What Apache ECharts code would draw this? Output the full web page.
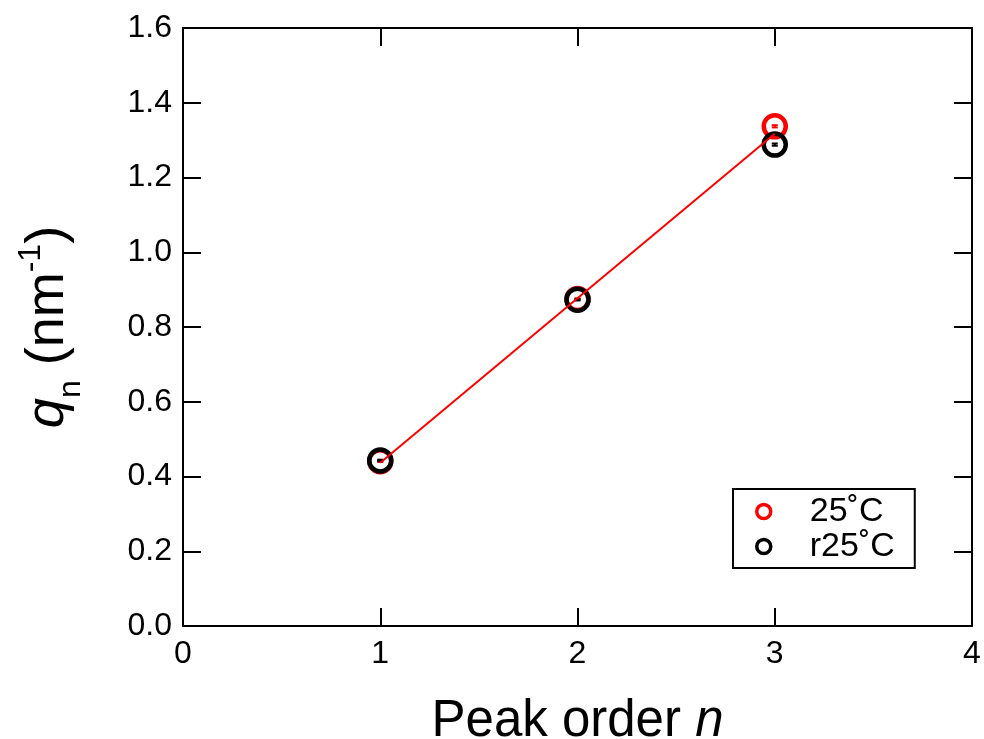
<!DOCTYPE html>
<html>
<head>
<meta charset="utf-8">
<script src="https://cdn.jsdelivr.net/npm/echarts@6/dist/echarts.min.js"></script>
<style>html,body{margin:0;padding:0;background:#fff}#c{width:984px;height:739px}</style>
</head>
<body>
<div id="c"></div>
<script>
// Data
const peakOrder = [1, 2, 3];
const q25 = [0.441, 0.875, 1.337];
const q25Err = [0.002, 0.002, 0.003];
const qR25 = [0.443, 0.873, 1.288];
const qR25Err = [0.002, 0.002, 0.003];
const fitX = [1, 3];
const fitY = [0.437, 1.317];
const xTicks = [0, 1, 2, 3, 4];
const yTicks = [0, 0.2, 0.4, 0.6, 0.8, 1.0, 1.2, 1.4, 1.6];

const FONT = 'Liberation Sans, Arial, Helvetica, sans-serif';
const chart = echarts.init(document.getElementById('c'), null, {renderer: 'canvas'});

function pairs(xs, ys) { return xs.map((x, i) => [x, ys[i]]); }
function errPairs(xs, ys, es) { return xs.map((x, i) => [x, ys[i], es[i]]); }

function errSeries(data, color) {
  return {
    type: 'custom', xAxisIndex: 0, yAxisIndex: 0, z: 4, silent: true,
    data: data,
    renderItem: function (params, api) {
      const x = api.value(0), y = api.value(1), e = api.value(2);
      const hi = api.coord([x, y + e]), lo = api.coord([x, y - e]);
      const w = 3;
      return {
        type: 'group',
        children: [
          {type: 'line', shape: {x1: hi[0], y1: hi[1], x2: lo[0], y2: lo[1]}, style: {stroke: color, lineWidth: 2}},
          {type: 'line', shape: {x1: hi[0] - w, y1: hi[1], x2: hi[0] + w, y2: hi[1]}, style: {stroke: color, lineWidth: 2}},
          {type: 'line', shape: {x1: lo[0] - w, y1: lo[1], x2: lo[0] + w, y2: lo[1]}, style: {stroke: color, lineWidth: 2}}
        ]
      };
    }
  };
}

function axisCommon() {
  return {
    axisLine: {show: true, onZero: false, lineStyle: {color: '#000', width: 2}},
    axisTick: {show: true, inside: true, length: 18, lineStyle: {color: '#000', width: 2}},
    splitLine: {show: false}
  };
}

const option = {
  animation: false,
  backgroundColor: '#fff',
  grid: {left: 183, right: 12, top: 28, bottom: 113, containLabel: false, outerBoundsMode: 'none'},
  xAxis: [
    Object.assign({
      type: 'value', min: 0, max: 4, interval: 1, position: 'bottom',
      axisLabel: {color: '#000', fontSize: 32, fontFamily: FONT, margin: 12,
        formatter: v => String(v)},
      name: '{a|Peak order }{i|n}', nameLocation: 'middle', nameGap: 70,
      nameTextStyle: {rich: {
        a: {fontSize: 51, fontFamily: FONT, color: '#000'},
        i: {fontSize: 51, fontFamily: FONT, color: '#000', fontStyle: 'italic'}
      }}
    }, axisCommon()),
    Object.assign({
      type: 'value', min: 0, max: 4, interval: 1, position: 'top',
      axisLabel: {show: false}
    }, axisCommon())
  ],
  yAxis: [
    Object.assign({
      type: 'value', min: 0, max: 1.6, interval: 0.2, position: 'left',
      axisLabel: {color: '#000', fontSize: 32, fontFamily: FONT, margin: 11,
        formatter: v => v.toFixed(1)},
      name: '{q|q}{sub|n}{a| (nm}{sup|-1}{a|)}', nameLocation: 'middle', nameRotate: 90, nameGap: 108,
      nameTextStyle: {rich: {
        q: {fontSize: 54, fontFamily: FONT, color: '#000', fontStyle: 'italic', lineHeight: 60, verticalAlign: 'bottom'},
        sub: {fontSize: 32, fontFamily: FONT, color: '#000', lineHeight: 60, verticalAlign: 'bottom', padding: [0, 0, -12, 0]},
        a: {fontSize: 54, fontFamily: FONT, color: '#000', lineHeight: 60, verticalAlign: 'bottom'},
        sup: {fontSize: 32, fontFamily: FONT, color: '#000', lineHeight: 60, verticalAlign: 'top', padding: [0, 0, 14, 0]}
      }}
    }, axisCommon()),
    Object.assign({
      type: 'value', min: 0, max: 1.6, interval: 0.2, position: 'right',
      axisLabel: {show: false}
    }, axisCommon())
  ],
  legend: {
    left: 733, top: 489, orient: 'vertical',
    data: [
      {name: '25˚C', itemStyle: {color: '#fff', borderColor: '#ff0000', borderWidth: 3.5}},
      {name: 'r25˚C', itemStyle: {color: '#fff', borderColor: '#000000', borderWidth: 3.5}}
    ],
    backgroundColor: '#fff',
    borderColor: '#000', borderWidth: 2, borderRadius: 0,
    padding: [5, 20, 4, 22],
    itemGap: 0, itemWidth: 14, itemHeight: 14,
    textStyle: {fontSize: 34, fontFamily: FONT, color: '#000', lineHeight: 35, padding: [0, 0, 0, 34]}
  },
  series: [
    {
      name: '25˚C', type: 'scatter', z: 3,
      data: pairs(peakOrder, q25),
      symbol: 'circle', symbolSize: 22,
      itemStyle: {color: 'rgba(0,0,0,0)', borderColor: '#ff0000', borderWidth: 4.5, opacity: 1}
    },
    errSeries(errPairs(peakOrder, q25, q25Err), '#ff0000'),
    {
      name: 'r25˚C', type: 'scatter', z: 5,
      data: pairs(peakOrder, qR25),
      symbol: 'circle', symbolSize: 22,
      itemStyle: {color: 'rgba(0,0,0,0)', borderColor: '#000000', borderWidth: 4.5, opacity: 1}
    },
    errSeries(errPairs(peakOrder, qR25, qR25Err), '#000000'),
    {
      name: 'fit', type: 'line', z: 6,
      data: pairs(fitX, fitY),
      symbol: 'none', silent: true,
      lineStyle: {color: '#ff0000', width: 2}
    }
  ]
};
chart.setOption(option);
</script>
</body>
</html>
